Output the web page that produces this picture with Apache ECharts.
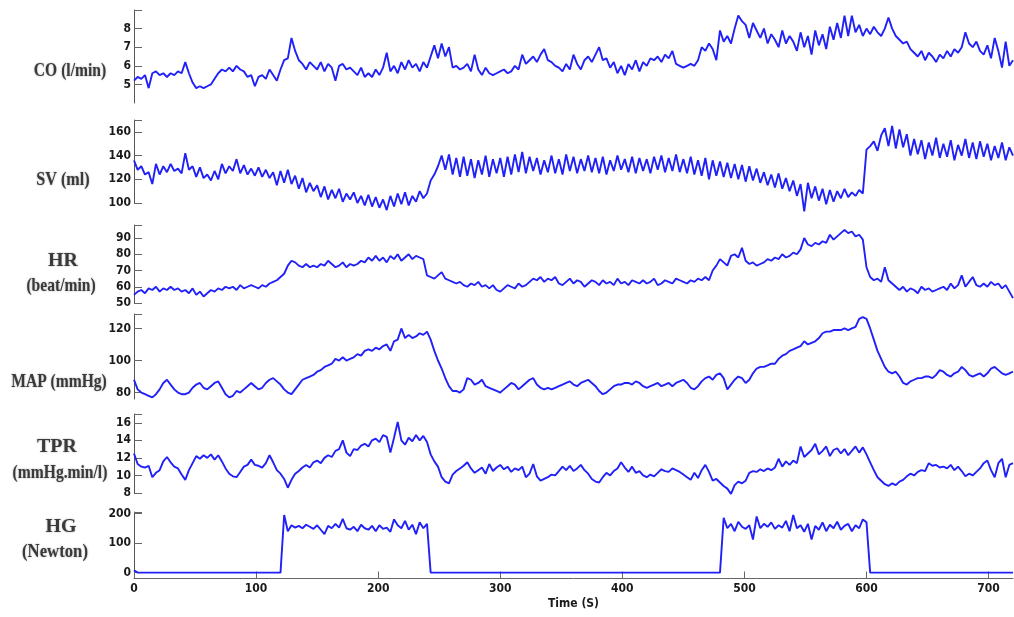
<!DOCTYPE html>
<html>
<head>
<meta charset="utf-8">
<script src="https://cdn.jsdelivr.net/npm/echarts@6/dist/echarts.min.js"></script>
<style>
  html, body { margin: 0; padding: 0; background: #fff; }
  #chart { width: 1014px; height: 617px; }
</style>
</head>
<body>
<div id="chart"></div>
<script>
// samples every 3 s, t = 0 .. 720
const step = 3;

const co = [
  5.2, 5.4, 5.3, 5.5, 4.8, 5.6, 5.7, 5.5, 5.6, 5.4,
  5.6, 5.5, 5.7, 5.6, 6.2, 5.6, 5.1, 4.8, 4.9, 4.8,
  4.9, 5.0, 5.3, 5.6, 5.8, 5.7, 5.9, 5.7, 6.0, 5.8,
  5.7, 5.4, 5.5, 4.9, 5.4, 5.5, 5.3, 5.8, 5.5, 5.2,
  5.8, 6.3, 6.4, 7.5, 6.8, 6.3, 6.1, 5.8, 6.2, 6.0,
  5.8, 6.2, 5.7, 6.1, 5.9, 5.2, 6.0, 6.1, 5.8, 5.9,
  5.7, 5.5, 5.9, 5.4, 5.6, 5.4, 5.8, 5.5, 5.9, 6.7,
  5.7, 6.0, 5.6, 6.2, 5.8, 6.3, 5.9, 6.1, 5.7, 6.2,
  5.9, 6.5, 7.1, 6.4, 7.2, 6.5, 7.0, 5.9, 6.0, 5.8,
  5.9, 6.1, 5.7, 6.6, 5.8, 5.5, 5.9, 5.6, 5.5, 5.6,
  5.7, 5.8, 5.6, 5.7, 6.0, 5.8, 6.6, 6.1, 6.3, 6.5,
  6.2, 6.6, 6.9, 6.3, 6.2, 6.0, 5.9, 5.7, 6.1, 5.8,
  6.6, 6.1, 5.8, 6.3, 6.5, 6.2, 6.6, 7.0, 6.3, 6.4,
  5.9, 6.2, 5.6, 6.0, 5.5, 6.1, 5.8, 6.3, 5.7, 6.2,
  6.0, 6.4, 6.3, 6.5, 6.2, 6.6, 6.4, 6.8, 6.1, 6.0,
  5.9, 6.0, 6.1, 6.0, 6.3, 7.0, 6.8, 7.2, 6.9, 6.3,
  7.9, 7.3, 7.6, 7.2, 8.0, 8.7, 8.4, 8.2, 7.5, 8.3,
  7.9, 7.5, 8.0, 7.2, 7.7, 7.4, 7.0, 7.9, 7.2, 7.6,
  7.3, 6.8, 7.8, 7.0, 7.6, 6.6, 7.9, 7.1, 7.7, 6.9,
  8.1, 7.4, 8.3, 7.5, 8.7, 7.6, 8.7, 7.8, 8.2, 7.6,
  8.0, 7.7, 8.1, 7.8, 7.6, 8.0, 8.6, 8.0, 7.6, 7.4,
  7.2, 7.3, 6.9, 6.7, 6.5, 6.8, 6.3, 6.7, 6.5, 6.2,
  6.6, 6.4, 6.8, 6.5, 6.9, 6.7, 7.0, 7.8, 7.2, 7.0,
  7.3, 6.8, 6.6, 7.1, 6.4, 7.5, 6.8, 5.9, 7.3, 6.0,
  6.3
];

const sv = [
  136, 128, 131, 124, 126, 116, 133, 124, 131, 126,
  133, 127, 129, 125, 142, 128, 131, 122, 130, 121,
  124, 119, 127, 120, 133, 125, 131, 127, 137, 125,
  132, 124, 129, 123, 130, 122, 128, 121, 126, 115,
  127, 117, 128, 116, 123, 112, 121, 109, 117, 110,
  115, 105, 114, 103, 111, 104, 112, 101, 108, 103,
  109, 100, 106, 98, 107, 97, 105, 96, 103, 94,
  106, 97, 108, 99, 109, 98, 106, 101, 110, 104,
  108, 119, 124, 131, 140, 128, 141, 124, 138, 122,
  139, 123, 137, 121, 136, 124, 140, 122, 137, 125,
  138, 122, 139, 124, 141, 126, 143, 125, 139, 127,
  138, 124, 136, 126, 140, 125, 137, 124, 141, 127,
  139, 125, 137, 127, 140, 126, 138, 125, 139, 124,
  136, 127, 140, 128, 137, 126, 139, 125, 138, 127,
  137, 125, 139, 128, 140, 126, 138, 127, 141, 126,
  137, 125, 139, 124, 136, 123, 138, 120, 136, 123,
  135, 122, 134, 121, 133, 120, 132, 118, 131, 119,
  129, 117, 126, 115, 124, 113, 125, 112, 121, 110,
  119, 106, 116, 93, 117, 104, 114, 102, 112, 99,
  111, 101, 110, 104, 112, 105, 109, 106, 111, 108,
  145, 148, 152, 144, 157, 163, 148, 165, 146, 162,
  147, 158, 140, 154, 141, 153, 137, 151, 140, 155,
  138, 150, 139, 153, 136, 149, 140, 154, 138, 151,
  137, 152, 139, 150, 136, 148, 138, 151, 136, 147,
  140
];

const hr = [
  55, 57, 58, 56, 59, 58, 60, 57, 59, 58,
  60, 58, 59, 57, 58, 56, 59, 55, 57, 54,
  56, 58, 57, 59, 58, 60, 59, 60, 58, 61,
  59, 60, 61, 60, 59, 61, 60, 62, 63, 64,
  66, 68, 73, 76, 75, 73, 72, 74, 72, 73,
  72, 74, 73, 76, 74, 72, 73, 75, 72, 74,
  73, 74, 76, 75, 78, 76, 79, 76, 78, 75,
  79, 77, 80, 76, 78, 80, 77, 79, 78, 77,
  67, 66, 65, 67, 69, 65, 64, 63, 62, 63,
  61, 60, 62, 61, 63, 60, 61, 59, 61, 58,
  57, 59, 61, 60, 59, 62, 60, 61, 63, 65,
  64, 66, 63, 65, 64, 66, 62, 61, 63, 65,
  62, 64, 63, 60, 62, 64, 63, 61, 64, 62,
  63, 61, 65, 62, 63, 61, 64, 63, 62, 64,
  62, 63, 65, 61, 62, 64, 63, 62, 65, 64,
  63, 62, 64, 63, 65, 64, 66, 64, 70, 73,
  77, 75, 73, 79, 80, 78, 84, 76, 74, 75,
  73, 74, 75, 77, 76, 78, 77, 80, 78, 79,
  81, 80, 83, 90, 86, 85, 87, 86, 88, 87,
  92, 89, 91, 93, 95, 93, 94, 91, 92, 89,
  72, 66, 64, 65, 63, 72, 64, 62, 60, 58,
  60, 57, 59, 58, 56, 60, 58, 59, 57, 58,
  59, 60, 58, 62, 59, 61, 67, 60, 63, 66,
  61, 60, 62, 60, 63, 61, 62, 59, 61, 57,
  53
];

const map = [
  88, 82, 80, 79, 78, 77, 79, 82, 86, 88,
  85, 82, 80, 79, 79, 80, 83, 85, 86, 83,
  82, 84, 86, 87, 83, 79, 77, 78, 81, 80,
  82, 84, 86, 84, 82, 83, 86, 88, 89, 87,
  85, 82, 80, 79, 82, 85, 88, 89, 90, 91,
  93, 94, 96, 97, 98, 101, 100, 102, 100, 101,
  102, 104, 103, 106, 107, 106, 108, 107, 109, 110,
  106, 112, 113, 120, 114, 116, 114, 115, 117, 116,
  118, 113, 106, 100, 95, 89, 84, 81, 81, 80,
  82, 89, 88, 85, 86, 88, 84, 83, 82, 81,
  80, 82, 84, 86, 85, 82, 84, 86, 88, 89,
  85, 83, 82, 83, 82, 83, 84, 85, 86, 87,
  85, 84, 86, 87, 88, 86, 84, 81, 79, 80,
  82, 84, 85, 85, 86, 86, 85, 87, 86, 84,
  83, 84, 85, 86, 84, 85, 86, 84, 86, 87,
  88, 86, 83, 82, 84, 87, 89, 90, 88, 91,
  92, 89, 82, 85, 88, 90, 89, 86, 88, 92,
  95, 96, 96, 97, 98, 98, 101, 103, 104, 106,
  107, 108, 109, 112, 110, 111, 112, 114, 117, 118,
  118, 119, 119, 119, 120, 119, 120, 121, 126, 127,
  126, 120, 113, 106, 101, 96, 93, 92, 93, 90,
  86, 85, 87, 88, 89, 89, 90, 90, 89, 91,
  94, 93, 91, 90, 92, 93, 96, 94, 91, 90,
  91, 92, 90, 92, 95, 96, 94, 92, 91, 92,
  93
];

const tpr = [
  12.5, 11.3, 11.0, 10.9, 11.1, 9.8, 10.3, 10.6, 11.6, 12.1,
  11.5, 11.0, 10.8, 10.1, 9.5, 10.6, 11.4, 12.2, 11.9, 12.3,
  12.0, 12.4, 11.8, 12.3, 11.6, 10.8, 10.2, 9.9, 9.8, 10.4,
  11.0, 11.2, 11.8, 11.2, 11.1, 10.9, 11.4, 12.3, 11.5, 10.6,
  10.2, 9.6, 8.6, 9.5, 10.2, 10.5, 10.9, 11.2, 10.9, 11.5,
  11.7, 11.4, 12.0, 12.3, 12.1, 12.8, 13.0, 14.0, 12.6, 12.2,
  13.0, 12.9, 13.4, 13.6, 13.3, 14.0, 14.2, 13.8, 14.6, 14.4,
  12.6, 14.3, 16.1, 14.0, 13.5, 14.3, 13.9, 14.6, 14.0, 14.5,
  13.8, 12.4, 11.6, 11.0, 9.8, 9.3, 9.1, 10.1, 10.5, 10.8,
  11.1, 11.5, 10.8, 10.3, 10.6, 10.9, 10.2, 11.3, 10.5, 10.9,
  11.2, 10.7, 11.0, 10.4, 10.8, 10.6, 11.0, 9.8, 10.2, 11.3,
  9.9, 9.4, 9.6, 9.8, 10.1, 10.0, 10.5, 11.0, 10.6, 11.1,
  10.5, 10.8, 11.2, 10.6, 10.2, 9.6, 9.3, 9.2, 9.8, 10.3,
  10.0, 10.5, 10.8, 11.5, 10.9, 10.4, 11.0, 10.3, 10.5, 10.0,
  9.8, 10.1, 9.9, 10.3, 10.7, 10.5, 10.4, 10.8, 10.6, 10.4,
  10.1, 9.8, 9.5, 10.3, 9.7, 10.6, 11.2, 10.4, 9.4, 9.6,
  9.2, 8.8, 8.5, 7.9, 8.9, 9.3, 9.1, 9.4, 10.3, 10.5,
  10.4, 10.7, 10.5, 10.8, 10.6, 10.9, 11.9, 11.0, 11.6, 11.2,
  11.7, 11.4, 13.3, 12.1, 12.5, 12.9, 13.6, 12.4, 12.8, 13.3,
  12.2, 12.9, 13.1, 12.5, 13.0, 12.3, 12.8, 13.3, 12.6, 13.2,
  12.4, 11.5, 10.6, 9.8, 9.4, 9.0, 8.8, 9.1, 8.9, 9.3,
  9.5, 9.9, 10.2, 10.0, 10.4, 10.6, 10.5, 11.4, 11.1, 11.2,
  10.9, 11.0, 10.8, 11.2, 10.6, 11.0, 10.5, 9.9, 10.2, 10.0,
  10.4, 10.8, 11.4, 11.7, 10.6, 9.8, 11.4, 11.9, 9.8, 11.2,
  11.4
];

const hg = [
  8, 0, 0, 0, 0, 0, 0, 0, 0, 0,
  0, 0, 0, 0, 0, 0, 0, 0, 0, 0,
  0, 0, 0, 0, 0, 0, 0, 0, 0, 0,
  0, 0, 0, 0, 0, 0, 0, 0, 0, 0,
  0, 195, 140, 160, 152, 158, 150, 162, 155, 148,
  160, 145, 130, 158, 150, 165, 152, 182, 150, 145,
  155, 140, 162, 150, 145, 158, 140, 160, 148, 152,
  138, 180, 160, 150, 175, 145, 162, 130, 170, 150,
  165, 0, 0, 0, 0, 0, 0, 0, 0, 0,
  0, 0, 0, 0, 0, 0, 0, 0, 0, 0,
  0, 0, 0, 0, 0, 0, 0, 0, 0, 0,
  0, 0, 0, 0, 0, 0, 0, 0, 0, 0,
  0, 0, 0, 0, 0, 0, 0, 0, 0, 0,
  0, 0, 0, 0, 0, 0, 0, 0, 0, 0,
  0, 0, 0, 0, 0, 0, 0, 0, 0, 0,
  0, 0, 0, 0, 0, 0, 0, 0, 0, 0,
  0, 185, 150, 165, 140, 172, 155, 148, 160, 112,
  190, 150, 165, 155, 170, 148, 160, 152, 175, 140,
  195, 150, 160, 138, 165, 112, 158, 145, 170, 140,
  162, 150, 172, 145, 158, 165, 140, 160, 150, 180,
  170, 0, 0, 0, 0, 0, 0, 0, 0, 0,
  0, 0, 0, 0, 0, 0, 0, 0, 0, 0,
  0, 0, 0, 0, 0, 0, 0, 0, 0, 0,
  0, 0, 0, 0, 0, 0, 0, 0, 0, 0,
  0
];

const timeTicks = [0, 100, 200, 300, 400, 500, 600, 700];

const panels = [
  { data: co,  min: 4,   max: 9,   labels: [5, 6, 7, 8],             top: 10,  height: 93 },
  { data: sv,  min: 100, max: 170, labels: [100, 120, 140, 160],     top: 120, height: 83 },
  { data: hr,  min: 50,  max: 98,  labels: [50, 60, 70, 80, 90],     top: 225, height: 78 },
  { data: map, min: 76,  max: 129, labels: [80, 100, 120],           top: 314, height: 85 },
  { data: tpr, min: 8,   max: 17,  labels: [8, 10, 12, 14, 16],      top: 414, height: 79 },
  { data: hg,  min: -20, max: 205, labels: [0, 100, 200],            top: 512, height: 66.5 }
];

const titles = [
  { text: 'CO (l/min)',   x: 70, y: 71,  sx: 0.82 },
  { text: 'SV (ml)',      x: 63, y: 180, sx: 0.85 },
  { text: 'HR',           x: 63, y: 261, sx: 1.05 },
  { text: '(beat/min)',   x: 61, y: 286, sx: 0.82 },
  { text: 'MAP (mmHg)',   x: 59, y: 382, sx: 0.82 },
  { text: 'TPR',          x: 57, y: 447, sx: 1.05 },
  { text: '(mmHg.min/l)', x: 60, y: 473, sx: 0.82 },
  { text: 'HG',           x: 61, y: 527, sx: 1.05 },
  { text: '(Newton)',     x: 55, y: 552, sx: 0.88 }
];

const tickFont = {
  fontFamily: "'Liberation Sans Narrow', 'DejaVu Sans Condensed', sans-serif",
  fontWeight: 'bold',
  fontSize: 12,
  color: '#1a1a1a'
};

const chart = echarts.init(document.getElementById('chart'), null, { renderer: 'canvas' });
const last = panels.length - 1;

const option = {
  animation: false,
  backgroundColor: '#ffffff',
  grid: panels.map(p => ({ left: 134, right: 1, top: p.top, height: p.height })),
  xAxis: panels.map((p, i) => ({
    type: 'value',
    gridIndex: i,
    min: 0,
    max: 720,
    show: i === last,
    name: i === last ? 'Time (S)' : '',
    nameLocation: 'middle',
    nameGap: 19,
    nameTextStyle: Object.assign({}, tickFont, { fontSize: 12 }),
    splitLine: { show: false },
    axisLine: { show: true, onZero: false, lineStyle: { color: '#666', width: 1 } },
    axisTick: { show: true, inside: true, length: 7, customValues: timeTicks, lineStyle: { color: '#666' } },
    axisLabel: Object.assign({ customValues: timeTicks, margin: 4 }, tickFont)
  })),
  yAxis: panels.map((p, i) => ({
    type: 'value',
    gridIndex: i,
    min: p.min,
    max: p.max,
    splitLine: { show: false },
    axisLine: { show: true, lineStyle: { color: '#555', width: 1 } },
    axisTick: { show: true, inside: true, length: 8, customValues: p.labels.concat([p.max]), lineStyle: { color: '#666' } },
    axisLabel: Object.assign({ customValues: p.labels, margin: 3 }, tickFont)
  })),
  series: panels.map((p, i) => ({
    type: 'line',
    xAxisIndex: i,
    yAxisIndex: i,
    showSymbol: false,
    clip: false,
    data: p.data.map((v, k) => [k * step, v]),
    lineStyle: { color: '#2020f8', width: 1.9 }
  })),
  graphic: titles.map(t => ({
    type: 'text',
    x: t.x,
    y: t.y,
    scaleX: t.sx,
    style: {
      text: t.text,
      fill: '#3a3a3a',
      font: "bold 19px 'Liberation Serif', 'DejaVu Serif', serif",
      textAlign: 'center',
      textVerticalAlign: 'middle',
      textShadowColor: 'rgba(0,0,0,0.35)',
      textShadowBlur: 2
    }
  }))
};

chart.setOption(option);
</script>
</body>
</html>
